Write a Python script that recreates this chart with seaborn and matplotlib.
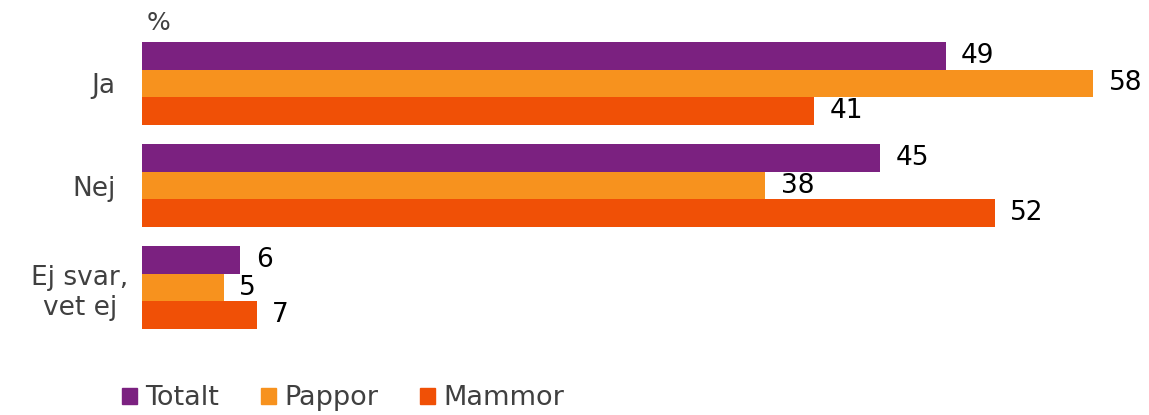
import matplotlib
matplotlib.use("Agg")
import matplotlib.pyplot as plt
import matplotlib.transforms as mtransforms
import pandas as pd
import seaborn as sns

categories = ["Ja", "Nej", "Ej svar,\nvet ej"]
series = ["Totalt", "Pappor", "Mammor"]
totalt = [49, 45, 6]
pappor = [58, 38, 5]
mammor = [41, 52, 7]
colors = ["#7B2180", "#F7921E", "#F05006"]

df = pd.DataFrame({
    "category": categories * 3,
    "group": [s for s in series for _ in categories],
    "value": totalt + pappor + mammor,
})

sns.set_theme(style="white")
plt.rcParams["font.family"] = ["DejaVu Sans"]

fig = plt.figure(figsize=(11.49, 4.15), dpi=100)
ax = fig.add_axes([0.1236, 0.1843, 0.8764, 0.7374])

sns.barplot(data=df, y="category", x="value", hue="group", orient="h",
            palette=colors, width=0.82, saturation=1, linewidth=0,
            ax=ax, legend=False)

for cont in ax.containers:
    ax.bar_label(cont, padding=11, fontsize=19, color="black")

ax.set_xlim(0, 61.4)
ax.set_ylim(2.5, -0.5)
ax.set_xlabel("")
ax.set_ylabel("")
ax.set_xticks([])
ax.tick_params(axis="y", length=0, pad=19, labelsize=19, labelcolor="#404040")
labels = ax.get_yticklabels()
for lbl in labels:
    lbl.set_multialignment("center")
# the two-line label sits a little further right in the original
shift = mtransforms.ScaledTranslation(13 / 100, 0, fig.dpi_scale_trans)
labels[-1].set_transform(labels[-1].get_transform() + shift)
for s in ax.spines.values():
    s.set_visible(False)

fig.text(0.138, 0.945, "%", fontsize=18, color="#404040", ha="center", va="center")

handles = [plt.Rectangle((0, 0), 1, 1, color=c) for c in colors]
fig.legend(handles, series, loc="lower left", bbox_to_anchor=(0.085, -0.05),
           ncol=3, frameon=False, fontsize=19.5, handlelength=0.55, handleheight=0.55,
           handletextpad=0.3, columnspacing=1.55, labelcolor="#404040")

fig.savefig("out.png", dpi=100)
